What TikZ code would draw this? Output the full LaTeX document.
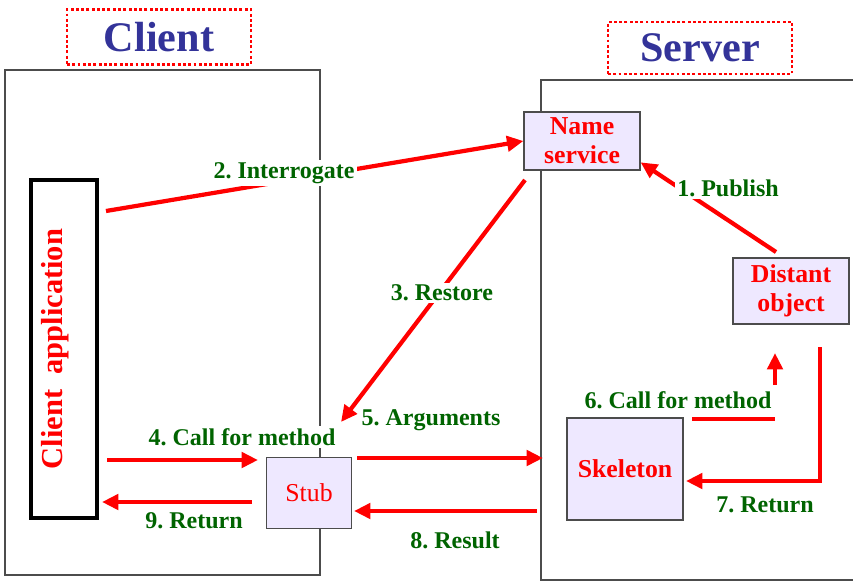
\documentclass[tikz,border=0pt]{standalone}
\usepackage{fontspec}
\setmainfont{Liberation Serif}
\usepackage{tikz}
\usetikzlibrary{arrows.meta,shapes}
\definecolor{titleblue}{RGB}{51,51,153}
\definecolor{lblgreen}{RGB}{0,100,0}
\definecolor{boxfill}{RGB}{238,232,255}
\frenchspacing

\begin{document}
\begin{tikzpicture}[x=0.03cm, y=-0.03cm,
flow/.style={-{Triangle[length=14pt,width=13pt]}, red, line width=3.6pt},
bar/.style={red, line width=3.6pt},
main node/.style={draw=black!70, fill=boxfill, line width=1pt, text=red, align=center, inner sep=0pt, font=\fontsize{22}{25}\selectfont\bfseries},
title node/.style={draw=red, line width=2.5pt, dash pattern=on 2.5pt off 2pt, text=titleblue, minimum width=5.52cm, minimum height=1.65cm, font=\fontsize{36}{40}\selectfont\bfseries},
lbl/.style={fill=white, text=lblgreen, inner sep=2pt, font=\fontsize{20.5}{24}\selectfont\bfseries}]
\useasboundingbox (0,0) rectangle (853,583);
% client and server sides
\draw[black!70, line width=1.5pt] (5,70) rectangle (320,575);
\draw[black!70, line width=1.5pt] (541,80) rectangle (870,580);
\node[title node] (ct) at (159,37) {Client};
\node[title node, minimum height=1.56cm] (sv) at (700,48) {Server};
% boxes
\node[main node, minimum width=3.48cm, minimum height=1.74cm] (ns) at (582,141) {Name\\service};
\node[main node, minimum width=3.48cm, minimum height=1.98cm] (do) at (791,291) {Distant\\object};
\node[main node, minimum width=3.48cm, minimum height=3.06cm] (sk) at (625,469) {Skeleton};
\node[main node, minimum width=2.55cm, minimum height=2.13cm, font=\fontsize{22}{25}\selectfont] (st) at (309,493) {Stub};
\node[draw=black, line width=3.5pt, fill=white, rotate=90, text=red, text depth=0.75cm, minimum width=10.14cm, minimum height=1.98cm, font=\fontsize{26}{30}\selectfont\bfseries] (ca) at (64,349) {Client~ application};
% free ends
\coordinate (a1) at (776,252);
\coordinate (a2) at (106,211);
\coordinate (a3) at (525,180);
\coordinate (b3) at (341,422);
\coordinate (a4) at (107,460);
\coordinate (b4) at (258,460);
\coordinate (a5) at (357,458);
\coordinate (b5) at (543,458);
\coordinate (a6) at (692,419);
\coordinate (m6) at (775,419);
\coordinate (c6) at (775,385);
\coordinate (b6) at (775,353);
\coordinate (a7) at (820,347);
\coordinate (b7) at (686,481);
\coordinate (a8) at (537,511);
\coordinate (b8) at (354,511);
\coordinate (a9) at (252,502);
\coordinate (b9) at (102,502);
\path
(a1) edge[flow] (ns.-20)
(a2) edge[flow] (ns.west)
(a3) edge[flow] (b3)
(a4) edge[flow] (b4)
(a5) edge[flow] (b5)
(a6) edge[bar] (m6)
(c6) edge[flow] (b6)
(a8) edge[flow] (b8)
(a9) edge[flow] (b9);
\draw[flow] (a7) |- (b7);
% step labels
\node[lbl] (l1) at (728,188) {1. Publish};
\node[lbl] (l2) at (284,173) {2. Interrogate};
\node[lbl] (l3) at (442,293) {3. Restore};
\node[lbl] (l4) at (242,437) {4. Call for method};
\node[lbl] (l5) at (431,420) {5. Arguments};
\node[lbl] (l6) at (678,400) {6. Call for method};
\node[lbl] (l7) at (765,505) {7. Return};
\node[lbl] (l8) at (455,540) {8. Result};
\node[lbl] (l9) at (194,521) {9. Return};
\end{tikzpicture}
\end{document}
